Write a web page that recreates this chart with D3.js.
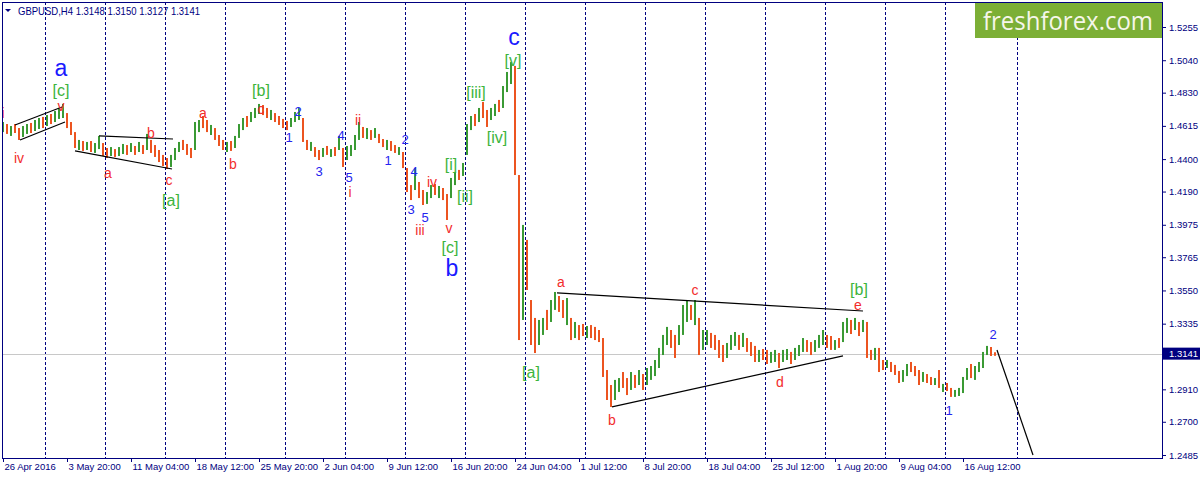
<!DOCTYPE html>
<html>
<head>
<meta charset="utf-8">
<script src="https://cdnjs.cloudflare.com/ajax/libs/d3/7.8.5/d3.min.js"></script>
<style>
  body { margin: 0; background: #fff; }
  svg { display: block; }
</style>
</head>
<body>
<div id="chart"></div>
<script>
// H4 bars (one bar here = two bars of the original)
const barHigh = [
  1.4640,1.4627,1.4614,1.4627,1.4601,1.4614,1.4627,1.4634,1.4653,1.4666,
  1.4673,1.4685,1.4692,1.4711,1.4731,1.4757,1.4698,1.4640,1.4575,1.4524,
  1.4517,1.4511,1.4517,1.4504,1.4550,1.4504,1.4472,1.4478,1.4465,1.4478,
  1.4498,1.4491,1.4504,1.4485,1.4511,1.4491,1.4563,1.4524,1.4491,1.4459,
  1.4427,1.4407,1.4427,1.4472,1.4511,1.4524,1.4498,1.4472,1.4640,1.4653,
  1.4679,1.4653,1.4621,1.4601,1.4556,1.4524,1.4511,1.4517,1.4550,1.4627,
  1.4666,1.4679,1.4705,1.4731,1.4757,1.4750,1.4731,1.4718,1.4698,1.4679,
  1.4660,1.4647,1.4666,1.4705,1.4731,1.4666,1.4524,1.4511,1.4478,1.4459,
  1.4472,1.4485,1.4465,1.4478,1.4550,1.4472,1.4485,1.4491,1.4556,1.4640,
  1.4608,1.4601,1.4588,1.4601,1.4563,1.4530,1.4524,1.4517,1.4491,1.4478,
  1.4446,1.4342,1.4232,1.4342,1.4252,1.4200,1.4187,1.4232,1.4239,1.4226,
  1.4213,1.4174,1.4278,1.4317,1.4330,1.4375,1.4627,1.4679,1.4692,1.4731,
  1.4770,1.4718,1.4731,1.4757,1.4783,1.4873,1.4964,1.5028,1.5003,1.4297,
  1.3974,1.3877,1.3488,1.3372,1.3359,1.3372,1.3424,1.3488,1.3540,1.3514,
  1.3488,1.3501,1.3372,1.3346,1.3326,1.3333,1.3320,1.3326,1.3314,1.3294,
  1.3242,1.3035,1.2938,1.2971,1.2983,1.3022,1.2983,1.3022,1.3003,1.3035,
  1.3009,1.3048,1.3061,1.3100,1.3178,1.3262,1.3314,1.3294,1.3262,1.3326,
  1.3456,1.3488,1.3456,1.3488,1.3372,1.3294,1.3294,1.3275,1.3262,1.3229,
  1.3197,1.3210,1.3262,1.3281,1.3262,1.3275,1.3242,1.3216,1.3191,1.3165,
  1.3171,1.3165,1.3152,1.3165,1.3145,1.3165,1.3171,1.3152,1.3178,1.3197,
  1.3242,1.3229,1.3216,1.3229,1.3262,1.3294,1.3262,1.3255,1.3229,1.3242,
  1.3346,1.3372,1.3359,1.3372,1.3346,1.3359,1.3346,1.3165,1.3178,1.3178,
  1.3100,1.3100,1.3087,1.3068,1.3029,1.3035,1.3074,1.3087,1.3061,1.3035,
  1.3022,1.3009,1.2990,1.2983,1.3035,1.2945,1.2951,1.2919,1.2906,1.2919,
  1.2990,1.3048,1.3074,1.3061,1.3087,1.3152,1.3191,1.3184,1.3150
];
const barLow = [
  1.4575,1.4563,1.4550,1.4569,1.4524,1.4543,1.4563,1.4569,1.4582,1.4595,
  1.4601,1.4614,1.4627,1.4640,1.4660,1.4666,1.4601,1.4556,1.4472,1.4459,
  1.4453,1.4459,1.4446,1.4440,1.4465,1.4420,1.4407,1.4420,1.4414,1.4420,
  1.4433,1.4427,1.4446,1.4427,1.4446,1.4433,1.4459,1.4440,1.4414,1.4381,
  1.4355,1.4336,1.4349,1.4394,1.4446,1.4459,1.4427,1.4407,1.4459,1.4575,
  1.4601,1.4575,1.4556,1.4524,1.4485,1.4459,1.4446,1.4453,1.4472,1.4537,
  1.4588,1.4608,1.4640,1.4666,1.4692,1.4685,1.4666,1.4653,1.4640,1.4621,
  1.4601,1.4588,1.4608,1.4640,1.4653,1.4511,1.4459,1.4453,1.4414,1.4394,
  1.4414,1.4427,1.4414,1.4420,1.4459,1.4349,1.4394,1.4420,1.4459,1.4524,
  1.4537,1.4530,1.4524,1.4537,1.4504,1.4478,1.4459,1.4453,1.4440,1.4427,
  1.4342,1.4187,1.4135,1.4200,1.4148,1.4103,1.4110,1.4148,1.4168,1.4148,
  1.4135,1.4006,1.4148,1.4232,1.4265,1.4291,1.4427,1.4588,1.4614,1.4640,
  1.4666,1.4608,1.4653,1.4679,1.4705,1.4731,1.4834,1.4886,1.4297,1.3229,
  1.3359,1.3553,1.3197,1.3145,1.3197,1.3262,1.3294,1.3346,1.3424,1.3411,
  1.3372,1.3326,1.3229,1.3242,1.3229,1.3255,1.3242,1.3242,1.3229,1.3216,
  1.2990,1.2841,1.2796,1.2841,1.2893,1.2919,1.2873,1.2906,1.2919,1.2938,
  1.2906,1.2938,1.2971,1.2996,1.3048,1.3132,1.3197,1.3178,1.3113,1.3197,
  1.3262,1.3346,1.3359,1.3326,1.3132,1.3165,1.3197,1.3178,1.3165,1.3113,
  1.3087,1.3113,1.3165,1.3191,1.3165,1.3184,1.3152,1.3126,1.3087,1.3087,
  1.3100,1.3074,1.3081,1.3087,1.3048,1.3087,1.3100,1.3074,1.3100,1.3126,
  1.3152,1.3152,1.3132,1.3152,1.3178,1.3197,1.3178,1.3165,1.3165,1.3178,
  1.3216,1.3275,1.3268,1.3294,1.3255,1.3281,1.3113,1.3100,1.3100,1.3022,
  1.3035,1.3048,1.3022,1.3003,1.2951,1.2958,1.2996,1.3022,1.2996,1.2938,
  1.2958,1.2951,1.2938,1.2938,1.2919,1.2893,1.2899,1.2861,1.2861,1.2867,
  1.2886,1.2971,1.2983,1.2971,1.3022,1.3048,1.3132,1.3126,1.3127
];
// u = bull bar, d = bear bar
const barDir =
  "ududduuduu" + "duduuudddu" + "duduuddudu" + "ududududdd" + "dduuuddduu" +
  "dduddduduu" + "uduuuddudd" + "dduuuddudd" + "udududuuuu" + "dududduddu" +
  "dddudduudu" + "dduuduuudu" + "dduuduuudd" + "uddduuduud" + "dududduddd" +
  "ddduuddudu" + "duuuuuuddu" + "uududuuddd" + "duuududddu" + "dduuduuduu" +
  "udduuuddud" + "uudududdud" + "duddduuddd" + "uddududduu" + "uuduuuudd";

const priceTicks = [1.5255, 1.5040, 1.4830, 1.4615, 1.4400, 1.4190, 1.3975,
                    1.3765, 1.3550, 1.3335, 1.2910, 1.2700, 1.2485];
const lastPrice = 1.3141;
const headerText = "GBPUSD,H4  1.3148 1.3150 1.3127 1.3141";

const dateIdx = [0, 16, 32, 48, 64, 80, 96, 112, 128, 144, 160, 176, 192, 208, 224, 240];
const dateLabels = ["26 Apr 2016", "3 May 20:00", "11 May 04:00", "18 May 12:00",
  "25 May 20:00", "2 Jun 04:00", "9 Jun 12:00", "16 Jun 20:00", "24 Jun 04:00",
  "1 Jul 12:00", "8 Jul 20:00", "18 Jul 04:00", "25 Jul 12:00", "1 Aug 20:00",
  "9 Aug 04:00", "16 Aug 12:00"];
const gridIdx = [10.5, 25.5, 40.5, 55.5, 70.5, 85.5, 100.5, 115.5, 130.5, 145.5,
                 160.5, 175.5, 190.5, 205.5, 220.5, 235.5, 253.5];

// trend lines: [bar1, price1, bar2, price2]
const trendLines = [
  [3, 1.4621, 14.75, 1.4737],
  [4.25, 1.4524, 15.5, 1.4640],
  [24, 1.4550, 42.5, 1.4530],
  [18, 1.4453, 42.25, 1.4336],
  [138.5, 1.3534, 215, 1.3417],
  [152.25, 1.2796, 210, 1.3126],
  [248.5, 1.3165, 257.5, 1.2485]
];

// wave marks: [text, bar, price, kind]
const waveLabels = [
  ["i", 0, 1.4698, "r"], ["iv", 4, 1.4407, "r"], ["v", 14.5, 1.4745, "r"],
  ["a", 26.25, 1.4310, "r"], ["b", 37, 1.4569, "r"], ["c", 41.5, 1.4265, "r"],
  ["a", 50, 1.4698, "r"], ["b", 57.5, 1.4368, "r"], ["c", 64.5, 1.4724, "r"],
  ["i", 86.75, 1.4187, "r"], ["ii", 88.75, 1.4653, "r"], ["iii", 104.25, 1.3941, "r"],
  ["iv", 107.25, 1.4252, "r"], ["v", 111.5, 1.3954, "r"],
  ["a", 139.5, 1.3605, "r"], ["b", 152.25, 1.2712, "r"], ["c", 173, 1.3553, "r"],
  ["d", 194.25, 1.2958, "r"], ["e", 213.75, 1.3456, "r"],
  ["[c]", 14.5, 1.4847, "g"], ["[a]", 42, 1.4135, "g"], ["[b]", 64.5, 1.4841, "g"],
  ["[c]", 111.75, 1.3831, "g"], ["[i]", 112, 1.4368, "g"], ["[ii]", 115.5, 1.4155, "g"],
  ["[iii]", 118.25, 1.4834, "g"], ["[iv]", 123.5, 1.4543, "g"], ["[v]", 127.5, 1.5041, "g"],
  ["[a]", 132, 1.3016, "g"], ["[b]", 214, 1.3553, "g"],
  ["a", 14.5, 1.4990, "B"], ["b", 112.25, 1.3695, "B"], ["c", 127.75, 1.5190, "B"],
  ["1", 71.5, 1.4537, "n"], ["2", 73.75, 1.4705, "n"], ["3", 79, 1.4317, "n"],
  ["4", 84.5, 1.4550, "n"], ["5", 86.5, 1.4284, "n"], ["1", 96.25, 1.4394, "n"],
  ["2", 100.5, 1.4524, "n"], ["3", 102, 1.4071, "n"], ["4", 102.75, 1.4323, "n"],
  ["5", 105.5, 1.4025, "n"], ["1", 236.5, 1.2770, "n"], ["2", 247.5, 1.3262, "n"]
];

const labelStyle = {
  r: { fill: "#f22c2c", size: 14 },
  g: { fill: "#3cb43c", size: 16 },
  B: { fill: "#1a1aff", size: 23 },
  n: { fill: "#2424f0", size: 13 }
};

const W = 1202, H = 479;
const plotL = 2, plotT = 2, plotR = 1162, plotB = 458;
const navy = "#000080";
const font = "'Liberation Sans', Arial, sans-serif";

const svg = d3.select("#chart").append("svg")
  .attr("width", W).attr("height", H)
  .style("font-family", font);

const x = d3.scaleLinear().domain([0, 248]).range([3, 995]);
const y = d3.scaleLinear().domain([1.2485, 1.5255]).range([455, 27]);

svg.append("clipPath").attr("id", "plot")
  .append("rect").attr("x", plotL).attr("y", plotT)
  .attr("width", plotR - plotL).attr("height", plotB - plotT);

const plot = svg.append("g").attr("clip-path", "url(#plot)");

// vertical grid
plot.selectAll("line.grid").data(gridIdx).enter().append("line")
  .attr("class", "grid")
  .attr("x1", d => Math.round(x(d)) + 0.5).attr("x2", d => Math.round(x(d)) + 0.5)
  .attr("y1", plotT).attr("y2", plotB)
  .attr("stroke", navy).attr("stroke-width", 1).attr("stroke-dasharray", "3,2");

// last price line
plot.append("line")
  .attr("x1", plotL).attr("x2", plotR)
  .attr("y1", Math.round(y(lastPrice)) + 0.5).attr("y2", Math.round(y(lastPrice)) + 0.5)
  .attr("stroke", "#c8c8c8");

// bars
plot.selectAll("rect.bar").data(barHigh).enter().append("rect")
  .attr("class", "bar")
  .attr("x", (d, i) => x(i) - 1)
  .attr("width", 2)
  .attr("y", d => y(d))
  .attr("height", (d, i) => Math.max(1, y(barLow[i]) - y(d)))
  .attr("fill", (d, i) => barDir[i] === "u" ? "#3a9a34" : "#ec5420");

// trend lines
plot.selectAll("line.trend").data(trendLines).enter().append("line")
  .attr("class", "trend")
  .attr("x1", d => x(d[0])).attr("y1", d => y(d[1]))
  .attr("x2", d => x(d[2])).attr("y2", d => y(d[3]))
  .attr("stroke", "#000").attr("stroke-width", 1.2);

// wave labels
plot.selectAll("text.wave").data(waveLabels).enter().append("text")
  .attr("class", "wave")
  .attr("x", d => x(d[1])).attr("y", d => y(d[2]))
  .attr("text-anchor", "middle").attr("dominant-baseline", "central")
  .attr("fill", d => labelStyle[d[3]].fill)
  .style("font-size", d => labelStyle[d[3]].size + "px")
  .text(d => d[0]);

// logo
svg.append("rect").attr("x", 975).attr("y", 2).attr("width", 187).attr("height", 36)
  .attr("fill", "#7caf36");
svg.append("text").attr("x", 1068).attr("y", 20)
  .attr("text-anchor", "middle").attr("dominant-baseline", "central")
  .attr("fill", "#f6f6ea").style("font-family", "'Open Sans', sans-serif")
  .style("font-size", "25px").attr("textLength", 170).attr("lengthAdjust", "spacingAndGlyphs")
  .text("freshforex.com");

// axes
const yAxis = d3.axisRight(y).tickValues(priceTicks).tickSize(4).tickSizeOuter(0)
  .tickFormat(d3.format(".4f"));
const gy = svg.append("g").attr("transform", "translate(" + plotR + ",0)").call(yAxis);
gy.select(".domain").remove();
gy.selectAll("line").attr("stroke", navy);
gy.selectAll("text").attr("fill", navy).style("font-size", "9.5px").style("font-family", font);

const xAxis = d3.axisBottom(x).tickValues(dateIdx).tickSize(4).tickSizeOuter(0)
  .tickFormat((d, i) => dateLabels[i]);
const gx = svg.append("g").attr("transform", "translate(0," + plotB + ")").call(xAxis);
gx.select(".domain").remove();
gx.selectAll("line").attr("stroke", navy);
gx.selectAll("text").attr("fill", navy).attr("text-anchor", "start").attr("x", 1)
  .attr("y", 5).style("font-size", "9.5px").style("font-family", font);

// last price tag
svg.append("rect").attr("x", plotR + 1).attr("y", y(lastPrice) - 6)
  .attr("width", 37).attr("height", 12).attr("fill", navy);
svg.append("text").attr("x", plotR + 7).attr("y", y(lastPrice))
  .attr("dominant-baseline", "central").attr("fill", "#fff")
  .style("font-size", "9.5px").text(lastPrice.toFixed(4));

// frame
svg.append("rect").attr("x", plotL + 0.5).attr("y", plotT + 0.5)
  .attr("width", plotR - plotL).attr("height", plotB - plotT)
  .attr("fill", "none").attr("stroke", navy);

// header
svg.append("path").attr("d", "M5,9 L11,9 L8,12 Z").attr("fill", navy);
svg.append("text").attr("x", 18).attr("y", 11).attr("dominant-baseline", "central")
  .attr("fill", navy).style("font-size", "10.5px")
  .attr("textLength", 182).attr("lengthAdjust", "spacingAndGlyphs")
  .text(headerText);
</script>
</body>
</html>
